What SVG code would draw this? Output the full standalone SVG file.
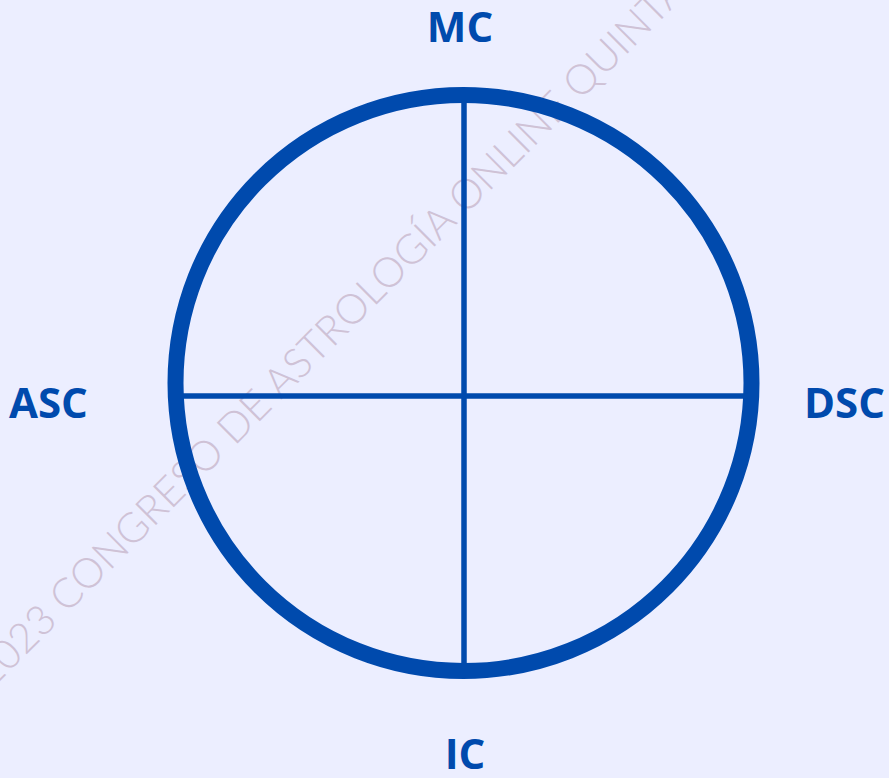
<svg xmlns="http://www.w3.org/2000/svg" width="889" height="778" viewBox="0 0 889 778">
  <style>
    .lbl { font-family: "Open Sans", "Liberation Sans", sans-serif; font-weight: 700; font-size: 42px; fill: #004AAD; }
    .wm { font-family: Lato, "Open Sans", "Liberation Sans", sans-serif; font-weight: 300; font-size: 41.4px; fill: #CFC2D6; }
    .wheel { fill: none; stroke: #004AAD; }
  </style>
  <rect width="889" height="778" fill="#ECEEFF"/>
  <text class="wm" transform="translate(-9 690) rotate(-45)">2023 CONGRESO DE ASTROLOGÍA ONLINE QUINTA</text>
  <g id="wheel">
    <circle class="wheel" cx="463.5" cy="383" r="288" stroke-width="16"/>
  </g>
  <g id="connectors">
    <line class="wheel" x1="464" y1="100" x2="464" y2="666" stroke-width="5.5"/>
    <line class="wheel" x1="180" y1="396" x2="748" y2="396" stroke-width="5.5"/>
  </g>
  <g id="mc"><text class="lbl" x="460" y="42" text-anchor="middle">MC</text></g>
  <g id="asc"><text class="lbl" x="9" y="418">ASC</text></g>
  <g id="dsc"><text class="lbl" x="804" y="418">DSC</text></g>
  <g id="ic"><text class="lbl" x="465" y="769" text-anchor="middle">IC</text></g>
</svg>
